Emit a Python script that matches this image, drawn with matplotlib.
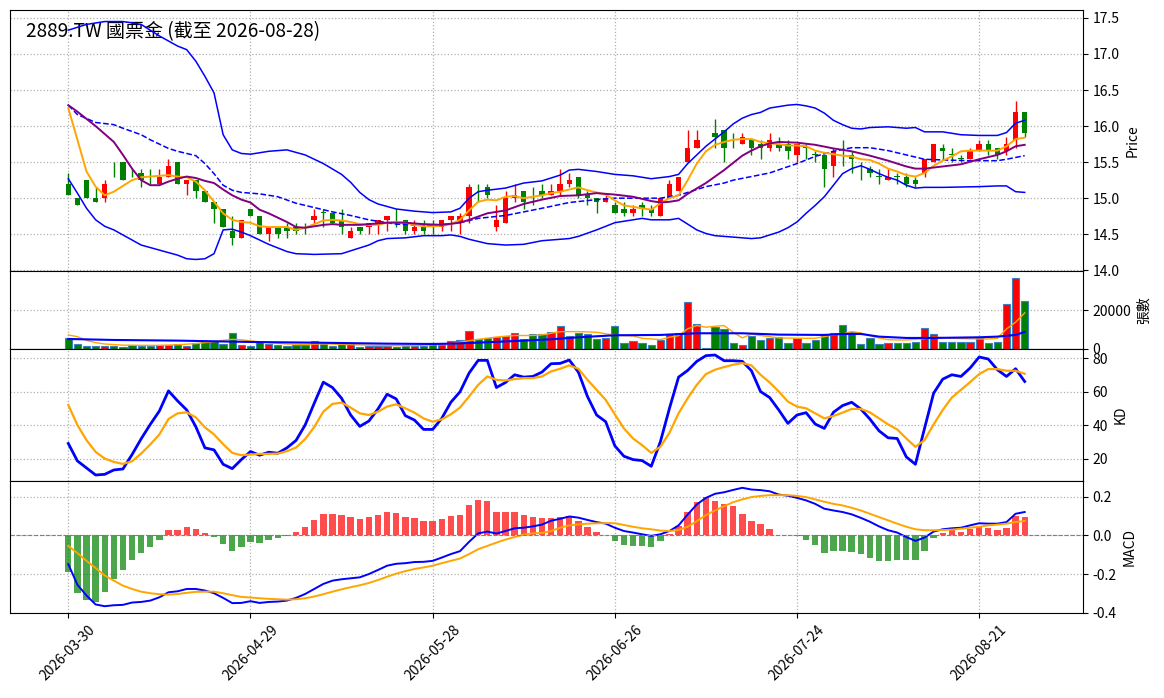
import matplotlib
matplotlib.use("Agg")
import matplotlib.pyplot as plt

plt.rcParams['font.family'] = ['Noto Sans CJK TC', 'DejaVu Sans']
plt.rcParams['axes.unicode_minus'] = False

# --- data (bar index 0..105) ---
tick_pos = [0, 20, 40, 60, 80, 100]
tick_labels = ['2026-03-30', '2026-04-29', '2026-05-28', '2026-06-26', '2026-07-24', '2026-08-21']

opens = [15.20, 15.00, 15.25, 15.00, 15.00, 15.35, 15.50, 15.35, 15.35, 15.25,
         15.20, 15.30, 15.50, 15.20, 15.25, 15.10, 14.95, 14.85, 14.55, 14.45,
         14.85, 14.75, 14.50, 14.60, 14.60, 14.60, 14.65, 14.70, 14.80, 14.80,
         14.70, 14.45, 14.60, 14.60, 14.65, 14.70, 14.65, 14.70, 14.55, 14.60,
         14.65, 14.60, 14.70, 14.65, 14.75, 15.15, 15.15, 14.60, 14.65, 15.00,
         15.10, 15.00, 15.10, 15.05, 15.10, 15.20, 15.30, 15.05, 15.00, 14.95,
         14.90, 14.85, 14.80, 14.90, 14.85, 14.75, 15.00, 15.10, 15.50, 15.70,
         15.80, 15.90, 15.95, 15.80, 15.75, 15.80, 15.75, 15.70, 15.75, 15.75,
         15.60, 15.70, 15.60, 15.60, 15.45, 15.65, 15.60, 15.40, 15.40, 15.30,
         15.25, 15.30, 15.30, 15.25, 15.35, 15.50, 15.70, 15.60, 15.55, 15.55,
         15.65, 15.75, 15.70, 15.65, 15.80, 16.20]
highs = [15.35, 15.00, 15.25, 15.15, 15.25, 15.50, 15.50, 15.40, 15.40, 15.40,
         15.40, 15.55, 15.50, 15.25, 15.25, 15.10, 14.95, 14.85, 14.75, 14.70,
         14.85, 14.75, 14.60, 14.60, 14.65, 14.65, 14.65, 14.85, 14.85, 14.80,
         14.85, 14.60, 14.60, 14.65, 14.70, 14.75, 14.85, 14.70, 14.70, 14.70,
         14.70, 14.70, 14.75, 14.80, 15.20, 15.20, 15.20, 14.90, 15.10, 15.20,
         15.10, 15.15, 15.20, 15.20, 15.40, 15.35, 15.30, 15.10, 15.00, 15.05,
         14.95, 14.95, 14.90, 14.95, 14.90, 15.00, 15.25, 15.30, 15.95, 15.95,
         15.80, 16.10, 15.95, 15.90, 15.90, 15.80, 15.80, 15.90, 15.85, 15.80,
         15.75, 15.75, 15.65, 15.60, 15.70, 15.80, 15.65, 15.50, 15.45, 15.40,
         15.40, 15.35, 15.35, 15.30, 15.55, 15.75, 15.75, 15.70, 15.60, 15.70,
         15.80, 15.80, 15.70, 15.85, 16.35, 16.20]
lows = [15.05, 14.90, 15.00, 14.95, 14.95, 15.30, 15.25, 15.30, 15.15, 15.20,
        15.20, 15.30, 15.20, 15.05, 15.00, 14.95, 14.65, 14.60, 14.35, 14.45,
        14.75, 14.50, 14.40, 14.45, 14.45, 14.50, 14.50, 14.65, 14.60, 14.65,
        14.50, 14.45, 14.50, 14.50, 14.50, 14.55, 14.60, 14.50, 14.50, 14.50,
        14.50, 14.55, 14.55, 14.50, 14.65, 14.95, 15.00, 14.55, 14.65, 14.95,
        14.85, 14.90, 15.00, 15.05, 15.05, 15.15, 15.00, 14.90, 14.80, 14.95,
        14.80, 14.75, 14.75, 14.75, 14.75, 14.75, 15.00, 15.10, 15.50, 15.70,
        15.80, 15.70, 15.50, 15.70, 15.75, 15.60, 15.55, 15.65, 15.65, 15.55,
        15.50, 15.55, 15.50, 15.15, 15.30, 15.45, 15.35, 15.25, 15.30, 15.20,
        15.25, 15.20, 15.15, 15.15, 15.30, 15.50, 15.55, 15.50, 15.50, 15.55,
        15.65, 15.60, 15.55, 15.60, 15.70, 15.85]
closes = [15.05, 14.90, 15.00, 14.95, 15.20, 15.35, 15.25, 15.35, 15.25, 15.25,
          15.30, 15.45, 15.20, 15.25, 15.10, 14.95, 14.85, 14.60, 14.45, 14.70,
          14.75, 14.50, 14.60, 14.50, 14.55, 14.55, 14.65, 14.75, 14.80, 14.65,
          14.60, 14.55, 14.55, 14.65, 14.70, 14.75, 14.65, 14.55, 14.60, 14.55,
          14.65, 14.70, 14.75, 14.75, 15.15, 15.15, 15.05, 14.70, 15.00, 15.05,
          14.95, 15.00, 15.05, 15.10, 15.20, 15.25, 15.05, 15.00, 14.95, 15.00,
          14.80, 14.80, 14.85, 14.85, 14.80, 15.00, 15.20, 15.30, 15.70, 15.80,
          15.80, 15.85, 15.70, 15.80, 15.85, 15.70, 15.70, 15.80, 15.70, 15.65,
          15.75, 15.70, 15.60, 15.40, 15.65, 15.65, 15.55, 15.40, 15.35, 15.30,
          15.30, 15.30, 15.20, 15.20, 15.55, 15.75, 15.65, 15.60, 15.55, 15.65,
          15.75, 15.65, 15.60, 15.75, 16.20, 15.90]
volumes = [5560, 2780, 1560, 1560, 1560, 1740, 1040, 2090, 1740, 1740,
           1910, 2260, 2780, 1560, 3300, 4000, 4350, 2610, 8520, 2260,
           1560, 3820, 2610, 2090, 1740, 2090, 1910, 4350, 2610, 1740,
           2780, 2950, 1220, 1560, 1560, 1560, 1220, 1560, 1560, 1740,
           3300, 2260, 4170, 4870, 9560, 5210, 5560, 6430, 6950, 8520,
           5390, 8000, 7650, 9040, 12170, 6950, 8170, 7650, 5040, 5560,
           12170, 3300, 4350, 3300, 2260, 4870, 8000, 8520, 24330, 13210,
           300, 11470, 10250, 3300, 2260, 6950, 4870, 5910, 6430, 3300,
           5910, 3300, 4870, 7820, 8520, 12690, 9040, 2780, 5560, 2610,
           3300, 3300, 3300, 3480, 11120, 7650, 3820, 3820, 3820, 3820,
           5560, 3300, 3820, 23120, 36670, 24680]

ma5 = [16.25, 15.81, 15.37, 15.16, 15.04, 15.09, 15.17, 15.25, 15.29, 15.30,
       15.31, 15.32, 15.30, 15.29, 15.23, 15.11, 14.95, 14.79, 14.70, 14.67,
       14.66, 14.61, 14.60, 14.60, 14.60, 14.56, 14.59, 14.64, 14.69, 14.70,
       14.69, 14.67, 14.64, 14.63, 14.63, 14.66, 14.67, 14.66, 14.63, 14.61,
       14.61, 14.62, 14.64, 14.70, 14.83, 14.95, 14.98, 14.97, 15.02, 15.03,
       15.00, 15.02, 15.04, 15.07, 15.09, 15.12, 15.15, 15.11, 15.08, 15.05,
       14.97, 14.90, 14.88, 14.86, 14.84, 14.93, 15.00, 15.04, 15.25, 15.48,
       15.65, 15.74, 15.78, 15.81, 15.82, 15.82, 15.78, 15.76, 15.75, 15.73,
       15.73, 15.72, 15.66, 15.63, 15.61, 15.59, 15.58, 15.54, 15.53, 15.48,
       15.41, 15.37, 15.32, 15.30, 15.35, 15.45, 15.52, 15.58, 15.65, 15.66,
       15.66, 15.66, 15.66, 15.72, 15.82, 15.84]

ma10_idx = [0, 1, 3, 5, 6, 7, 8, 9, 10, 11, 12, 13, 14, 15, 16, 17, 18, 19, 20, 21,
            22, 23, 24, 25, 26, 27, 28, 29, 30, 32, 34, 35, 37, 39, 41, 43, 44, 46, 48, 50,
            52, 54, 56, 58, 60, 62, 64, 65, 66, 67, 68, 70, 72, 73, 74, 75, 76, 77, 78, 80,
            82, 84, 85, 86, 88, 90, 92, 93, 94, 96, 98, 100, 102, 103, 104, 105]
ma10 = [16.29, 16.20, 16.00, 15.78, 15.60, 15.41, 15.25, 15.18, 15.18, 15.23,
        15.27, 15.30, 15.28, 15.24, 15.21, 15.12, 15.04, 14.98, 14.94, 14.84,
        14.79, 14.73, 14.67, 14.60, 14.59, 14.61, 14.63, 14.64, 14.63, 14.63,
        14.65, 14.66, 14.66, 14.64, 14.63, 14.66, 14.70, 14.79, 14.83, 14.92,
        14.98, 15.03, 15.04, 15.07, 15.05, 15.02, 14.96, 14.94, 14.95, 14.97,
        15.06, 15.21, 15.39, 15.49, 15.59, 15.66, 15.72, 15.76, 15.78, 15.77,
        15.74, 15.69, 15.67, 15.65, 15.59, 15.52, 15.44, 15.41, 15.41, 15.44,
        15.47, 15.54, 15.60, 15.65, 15.72, 15.74]

bb_up_idx = [0, 2, 4, 6, 8, 10, 12, 13, 14, 15, 16, 17, 18, 19, 20, 22, 24, 26, 28, 30,
             31, 32, 33, 34, 36, 38, 40, 42, 43, 44, 45, 46, 48, 50, 52, 54, 55, 56, 58, 60,
             62, 64, 66, 67, 68, 70, 72, 73, 74, 75, 76, 77, 78, 79, 80, 81, 82, 83, 84, 85,
             86, 87, 88, 90, 92, 93, 94, 96, 98, 100, 102, 103, 104, 105]
bb_up = [17.33, 17.41, 17.45, 17.45, 17.41, 17.25, 17.11, 17.06, 16.90, 16.69,
         16.46, 15.88, 15.67, 15.62, 15.61, 15.65, 15.67, 15.60, 15.48, 15.33,
         15.22, 15.08, 14.98, 14.92, 14.85, 14.82, 14.80, 14.81, 14.86, 15.00,
         15.09, 15.11, 15.14, 15.21, 15.24, 15.32, 15.39, 15.40, 15.37, 15.33,
         15.31, 15.27, 15.30, 15.33, 15.48, 15.72, 15.92, 16.03, 16.11, 16.16,
         16.19, 16.25, 16.27, 16.29, 16.30, 16.28, 16.25, 16.18, 16.08, 16.02,
         15.97, 15.96, 15.98, 15.99, 15.97, 15.98, 15.92, 15.92, 15.88, 15.87,
         15.87, 15.91, 16.04, 16.08]

bb_mid_idx = [0, 1, 3, 5, 6, 8, 9, 11, 12, 14, 15, 16, 17, 18, 19, 21, 23, 25, 27, 29,
              31, 33, 36, 40, 43, 45, 48, 50, 52, 55, 58, 60, 63, 65, 67, 70, 72, 73, 75, 77,
              80, 82, 84, 86, 88, 90, 92, 94, 96, 99, 102, 103, 105]
bb_mid = [16.29, 16.16, 16.05, 16.02, 15.97, 15.88, 15.81, 15.69, 15.65, 15.59,
          15.48, 15.34, 15.18, 15.11, 15.08, 15.06, 15.02, 14.93, 14.87, 14.81,
          14.76, 14.70, 14.64, 14.62, 14.66, 14.72, 14.76, 14.81, 14.86, 14.94,
          14.98, 15.00, 15.00, 15.00, 15.04, 15.16, 15.21, 15.25, 15.30, 15.35,
          15.48, 15.58, 15.65, 15.70, 15.70, 15.66, 15.60, 15.54, 15.53, 15.52,
          15.52, 15.54, 15.59]

bb_low_idx = [0, 1, 2, 3, 4, 5, 6, 7, 8, 10, 12, 13, 14, 15, 16, 17, 18, 19, 20, 21,
              22, 23, 24, 25, 27, 30, 31, 32, 33, 34, 35, 37, 39, 41, 42, 43, 44, 45, 46, 48,
              50, 52, 54, 55, 56, 58, 60, 62, 63, 64, 66, 67, 68, 69, 70, 71, 72, 74, 75, 76,
              77, 78, 79, 80, 81, 82, 83, 84, 85, 86, 87, 88, 89, 90, 91, 92, 93, 94, 96, 100,
              102, 103, 104, 105]
bb_low = [15.27, 15.07, 14.86, 14.70, 14.61, 14.56, 14.49, 14.42, 14.35, 14.28,
          14.21, 14.16, 14.15, 14.16, 14.23, 14.56, 14.57, 14.53, 14.48, 14.42,
          14.36, 14.31, 14.26, 14.23, 14.22, 14.23, 14.27, 14.31, 14.35, 14.41,
          14.44, 14.45, 14.48, 14.48, 14.49, 14.47, 14.43, 14.40, 14.37, 14.35,
          14.36, 14.41, 14.43, 14.44, 14.47, 14.56, 14.66, 14.70, 14.72, 14.70,
          14.70, 14.72, 14.64, 14.56, 14.51, 14.48, 14.47, 14.45, 14.44, 14.45,
          14.49, 14.53, 14.59, 14.67, 14.79, 14.90, 15.02, 15.18, 15.34, 15.41,
          15.45, 15.40, 15.34, 15.29, 15.25, 15.18, 15.14, 15.15, 15.15, 15.16,
          15.17, 15.17, 15.09, 15.08]

vol_ma5_idx = [0, 1, 2, 3, 4, 6, 8, 10, 12, 14, 16, 17, 18, 19, 20, 22, 24, 26, 28, 30,
               32, 34, 36, 38, 40, 42, 43, 44, 45, 47, 49, 51, 52, 54, 56, 58, 60, 62, 63, 65,
               66, 67, 68, 69, 70, 71, 72, 73, 74, 75, 76, 77, 78, 80, 82, 83, 84, 85, 86, 87,
               88, 89, 90, 91, 92, 94, 95, 96, 98, 100, 101, 102, 103, 104, 105]
vol_ma5 = [7300, 6400, 4500, 3300, 2600, 2000, 1900, 1900, 2200, 2800,
           3800, 4500, 5000, 4800, 4200, 3300, 2600, 2400, 2700, 2400,
           2100, 1900, 1700, 1800, 2100, 2700, 3600, 4300, 5000, 6200,
           7000, 7000, 7300, 9000, 9040, 8690, 7130, 6780, 5560, 4870,
           6080, 6950, 10500, 12170, 11300, 11820, 12170, 8690, 5740, 7820,
           6950, 6430, 5740, 5560, 5560, 6430, 7300, 7820, 9040, 8340,
           6950, 5740, 4870, 4690, 4690, 5390, 6080, 5910, 5390, 5210,
           5210, 5560, 10430, 13900, 18770]

vol_ma20_idx = [0, 5, 12, 20, 27, 35, 40, 42, 45, 50, 53, 56, 60, 65, 69, 74, 78, 83, 85, 87,
                89, 92, 95, 100, 102, 104, 105]
vol_ma20 = [5210, 4690, 4350, 3650, 3300, 2780, 2610, 2780, 3300, 4350,
            5040, 6080, 7130, 7300, 8170, 8170, 7470, 7300, 7820, 7820,
            6430, 5740, 5740, 6080, 6430, 7300, 8860]

k_vals = [29, 18.6, 14.4, 10.2, 10.6, 13.2, 13.8, 22.4, 31.8, 40.4,
          48.4, 60.4, 54.4, 49, 39, 26.4, 25.2, 16.6, 14, 19.4,
          24.2, 22, 23.8, 23.2, 26.4, 30.8, 40, 53, 65.6, 62.4,
          56, 46, 39.2, 42.4, 49.6, 58.4, 55.6, 45.6, 43, 37.4,
          37.4, 44, 53.6, 59.8, 71, 78.6, 78.6, 62.4, 65.4, 70,
          68.6, 69, 71.6, 76.6, 76.8, 78.8, 71.6, 57, 46, 42,
          27.6, 21.4, 19.4, 18.8, 15.4, 30, 50, 68.6, 72.6, 78,
          81.4, 81.8, 78.4, 78.4, 78, 72.4, 60, 56.4, 49, 41,
          46, 47.4, 40.6, 38, 47.6, 51.6, 53.6, 49.6, 43.6, 36.6,
          32.4, 32, 21, 16.6, 38, 59, 67.4, 70, 69, 74,
          80.6, 79.4, 73, 69, 73.6, 66]
d_vals = [52, 40, 31, 24, 20, 18, 16.8, 18.4, 23, 28.4,
          34.4, 43.6, 47, 47.6, 44.6, 38.6, 34.4, 28.6, 23.4, 22,
          22.4, 22.8, 22.8, 23, 24.4, 26.6, 31.6, 38.8, 48, 52.6,
          53.4, 50.4, 47, 46, 48, 51, 52.4, 50, 47.4, 44,
          42, 43.4, 46.4, 50.4, 57, 64, 69, 67, 66.6, 67.4,
          68, 68, 69, 72, 73.6, 75.6, 73.6, 67, 61, 55,
          46.4, 38, 32, 28, 23.4, 27, 35.4, 47, 56, 64,
          70.4, 73, 74.6, 76, 77, 75.6, 70, 65.4, 60, 54,
          51, 50, 47, 44, 45.4, 47.4, 49.6, 49.6, 47.6, 44,
          40.4, 37.4, 32, 27, 31, 40.4, 49, 56.4, 61, 65.6,
          70.4, 73.4, 73.4, 72.4, 72.4, 70.6]

macd_line = [-0.149, -0.255, -0.311, -0.357, -0.366, -0.361, -0.359, -0.347, -0.344, -0.337,
             -0.320, -0.294, -0.289, -0.277, -0.277, -0.285, -0.299, -0.323, -0.350, -0.349,
             -0.340, -0.349, -0.344, -0.342, -0.337, -0.323, -0.303, -0.277, -0.251, -0.234,
             -0.227, -0.222, -0.217, -0.200, -0.179, -0.157, -0.147, -0.144, -0.138, -0.137,
             -0.132, -0.115, -0.097, -0.082, -0.034, 0.010, 0.019, 0.009, 0.022, 0.036,
             0.039, 0.046, 0.055, 0.075, 0.085, 0.097, 0.091, 0.079, 0.068, 0.060,
             0.039, 0.022, 0.014, 0.005, -0.003, 0.005, 0.022, 0.051, 0.107, 0.159,
             0.193, 0.214, 0.222, 0.234, 0.245, 0.236, 0.233, 0.227, 0.210, 0.204,
             0.193, 0.180, 0.162, 0.137, 0.128, 0.120, 0.108, 0.090, 0.070, 0.046,
             0.026, 0.014, -0.009, -0.029, -0.012, 0.019, 0.031, 0.036, 0.039, 0.051,
             0.062, 0.060, 0.060, 0.068, 0.111, 0.120]
macd_signal = [-0.055, -0.092, -0.132, -0.169, -0.207, -0.234, -0.260, -0.277, -0.291, -0.299,
               -0.304, -0.306, -0.303, -0.297, -0.292, -0.291, -0.291, -0.299, -0.309, -0.318,
               -0.321, -0.325, -0.328, -0.330, -0.332, -0.330, -0.325, -0.316, -0.304, -0.291,
               -0.279, -0.268, -0.258, -0.246, -0.231, -0.214, -0.198, -0.185, -0.174, -0.166,
               -0.157, -0.144, -0.132, -0.120, -0.097, -0.072, -0.055, -0.038, -0.022, -0.009,
               0.003, 0.010, 0.012, 0.022, 0.039, 0.051, 0.056, 0.060, 0.062, 0.063,
               0.062, 0.053, 0.044, 0.036, 0.031, 0.024, 0.022, 0.027, 0.044, 0.073,
               0.104, 0.128, 0.150, 0.171, 0.185, 0.197, 0.203, 0.207, 0.207, 0.207,
               0.203, 0.197, 0.185, 0.173, 0.162, 0.154, 0.142, 0.128, 0.111, 0.094,
               0.077, 0.060, 0.044, 0.031, 0.026, 0.026, 0.027, 0.029, 0.034, 0.039,
               0.044, 0.051, 0.055, 0.060, 0.068, 0.074]
macd_hist = [-0.190, -0.300, -0.333, -0.345, -0.294, -0.227, -0.181, -0.125, -0.094, -0.058,
             -0.022, 0.027, 0.027, 0.044, 0.034, 0.014, -0.007, -0.043, -0.079, -0.058,
             -0.034, -0.038, -0.022, -0.015, -0.002, 0.019, 0.044, 0.079, 0.109, 0.109,
             0.104, 0.096, 0.084, 0.096, 0.104, 0.120, 0.115, 0.094, 0.089, 0.074,
             0.074, 0.084, 0.099, 0.104, 0.156, 0.181, 0.176, 0.120, 0.120, 0.120,
             0.104, 0.096, 0.089, 0.089, 0.094, 0.099, 0.074, 0.043, 0.017, 0.002,
             -0.029, -0.048, -0.053, -0.053, -0.058, -0.032, 0.007, 0.048, 0.120, 0.171,
             0.200, 0.176, 0.159, 0.150, 0.109, 0.074, 0.058, 0.032, 0.001, 0.001,
             -0.003, -0.022, -0.048, -0.089, -0.079, -0.079, -0.084, -0.099, -0.118, -0.135,
             -0.135, -0.126, -0.130, -0.130, -0.079, -0.015, 0.012, 0.026, 0.017, 0.031,
             0.048, 0.039, 0.027, 0.038, 0.099, 0.094]

title = '2889.TW 國票金 (截至 2026-08-28)'

# --- figure ---
fig = plt.figure(figsize=(11.64, 6.98), dpi=100)
L, W = 10 / 1164, 1073 / 1164
H = 698
ax1 = fig.add_axes([L, 1 - 271 / H, W, 261 / H])
ax2 = fig.add_axes([L, 1 - 349 / H, W, 78 / H], sharex=ax1)
ax3 = fig.add_axes([L, 1 - 481 / H, W, 132 / H], sharex=ax1)
ax4 = fig.add_axes([L, 1 - 613 / H, W, 132 / H], sharex=ax1)

n = len(closes)
x = list(range(n))
colors = ['red' if c > o else 'green' for o, c in zip(opens, closes)]

# price panel: candles
ax1.vlines(x, lows, highs, colors=colors, linewidth=1, zorder=2)
bottoms = [min(o, c) for o, c in zip(opens, closes)]
heights = [max(abs(c - o), 0.006) for o, c in zip(opens, closes)]
ax1.bar(x, heights, bottom=bottoms, width=0.6, color=colors, zorder=3)
ax1.plot(bb_up_idx, bb_up, color='blue', linewidth=1.1, zorder=4)
ax1.plot(bb_mid_idx, bb_mid, color='blue', linewidth=1.1, linestyle='--', zorder=4)
ax1.plot(bb_low_idx, bb_low, color='blue', linewidth=1.1, zorder=4)
ax1.plot(x, ma5, color='orange', linewidth=1.4, zorder=4)
ax1.plot(ma10_idx, ma10, color='purple', linewidth=1.4, zorder=4)
ax1.set_ylim(13.99, 17.61)
ax1.set_yticks([14.0, 14.5, 15.0, 15.5, 16.0, 16.5, 17.0, 17.5])
ax1.set_ylabel('Price')
ax1.text(0.015, 0.957, title, transform=ax1.transAxes, fontsize=13.7,
         fontweight='medium', va='top', ha='left', zorder=1)

# volume panel
ax2.bar(x, volumes, width=0.8, color=colors, edgecolor='#3f7fbf', linewidth=0.8)
ax2.plot(vol_ma5_idx, vol_ma5, color='orange', linewidth=1)
ax2.plot(vol_ma20_idx, vol_ma20, color='blue', linewidth=1.5)
ax2.set_ylim(0, 40500)
ax2.set_yticks([0, 20000])
ax2.set_ylabel('張數')

# KD panel
ax3.plot(x, k_vals, color='blue', linewidth=2)
ax3.plot(x, d_vals, color='orange', linewidth=1.6)
ax3.set_yticks([20, 40, 60, 80])
ax3.set_ylabel('KD')

# MACD panel
hist_colors = ['red' if v >= 0 else 'green' for v in macd_hist]
ax4.bar(x, macd_hist, width=0.7, color=hist_colors, alpha=0.7)
ax4.plot(x, macd_line, color='blue', linewidth=1.4)
ax4.plot(x, macd_signal, color='orange', linewidth=1.4)
ax4.axhline(0, color='gray', linestyle='--', linewidth=0.8)
ax4.set_yticks([-0.4, -0.2, 0.0, 0.2])
ax4.set_ylim(-0.401, 0.28)
ax4.set_ylabel('MACD')

for ax in (ax1, ax2, ax3, ax4):
    ax.yaxis.tick_right()
    ax.yaxis.set_label_position('right')
    ax.grid(True, linestyle=':', color='#b0b0b0', linewidth=0.9)
    ax.set_axisbelow(True)
for ax in (ax1, ax2, ax3):
    ax.tick_params(axis='x', bottom=False, labelbottom=False)

ax4.set_xlim(-6.4, n - 1 + 6.4)
ax4.set_xticks(tick_pos)
ax4.set_xticklabels(tick_labels, rotation=45, ha='center')

fig.savefig('out.png', dpi=100)
